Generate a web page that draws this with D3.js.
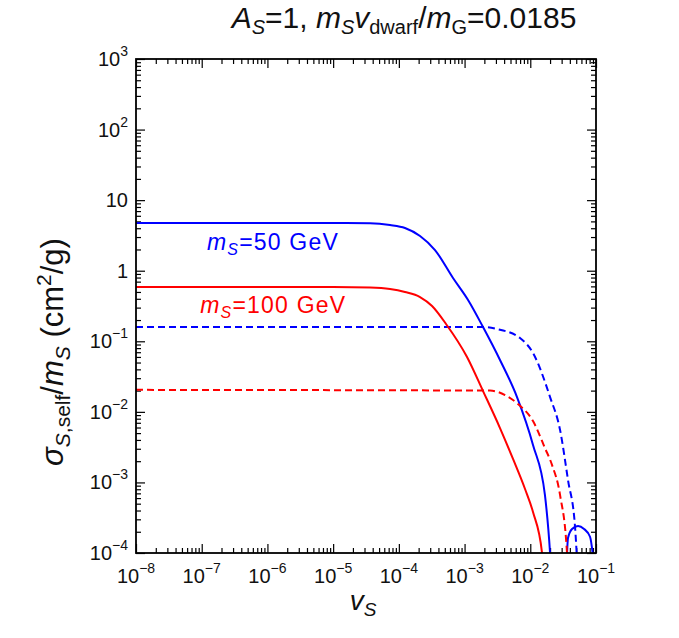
<!DOCTYPE html>
<html>
<head>
<script src="https://cdn.jsdelivr.net/npm/d3@7"></script>
<style>
  body { margin: 0; background: #fff; }
  text { font-family: "Liberation Sans", Arial, Helvetica, sans-serif; }
</style>
</head>
<body>
<div id="chart"></div>
<script>
// decades shown on the axes
var xExponents = [-8, -7, -6, -5, -4, -3, -2, -1]
var yExponents = [-4, -3, -2, -1, 0, 1, 2, 3]

// curves: [v_S, sigma/m_S]
var ms50Solid = [[1e-8, 4.75], [1e-6, 4.75], [1e-5, 4.74], [3.64e-5, 4.7], [7.33e-5, 4.44],
  [1.24e-4, 4.03], [2.10e-4, 3.10], [3.55e-4, 1.96], [6.67e-4, 0.788], [1.13e-3, 0.385],
  [1.91e-3, 0.159], [3.46e-3, 0.0543], [6.28e-3, 0.0162], [0.0110, 3.39e-3], [0.0167, 6.64e-4],
  [0.0200, 1.0e-4], [0.0212, 4e-5]]
var ms50Arc = [[0.0350, 4e-5], [0.0375, 1.63e-4], [0.0432, 2.19e-4], [0.0533, 2.41e-4],
  [0.0658, 2.19e-4], [0.0811, 1.7e-4], [0.098, 4e-5]]
var ms50Dashed = [[1e-8, 0.16], [1.85e-3, 0.16], [3.12e-3, 0.149], [6.98e-3, 0.111], [0.0110, 0.0682],
  [0.0200, 0.0162], [0.0284, 5.53e-3], [0.0375, 1.08e-3], [0.0480, 2.33e-4], [0.0533, 4e-5]]
var ms100Solid = [[1e-8, 0.59], [1e-5, 0.588], [3.64e-5, 0.578], [7.33e-5, 0.551], [1.24e-4, 0.499],
  [2.10e-4, 0.424], [3.20e-4, 0.316], [5.22e-4, 0.176], [1.09e-3, 0.0599], [1.91e-3, 0.0197],
  [3.46e-3, 5.9e-3], [5.46e-3, 2.15e-3], [8.32e-3, 8.07e-4], [0.0110, 3.81e-4], [0.0151, 1.0e-4],
  [0.0160, 4e-5]]
var ms100Dashed = [[1e-8, 0.0205], [2.44e-3, 0.0200], [4.13e-3, 0.0173], [6.50e-3, 0.0129],
  [0.0110, 7.41e-3], [0.0167, 3.08e-3], [0.0214, 1.77e-3], [0.0284, 6.6e-4], [0.0362, 1.0e-4],
  [0.0380, 4e-5]]

var margin = { top: 59, left: 136 },
    width = 460,
    height = 494

var root = d3.select("#chart").append("svg")
    .attr("width", 679)
    .attr("height", 638)
var svg = root.append("g")
    .attr("transform", "translate(" + margin.left + "," + margin.top + ")")

var x = d3.scaleLog().domain([1e-8, 1e-1]).range([0, width])
var y = d3.scaleLog().domain([1e-4, 1e3]).range([height, 0])

var majorX = xExponents.map(function (e) { return Math.pow(10, e) })
var majorY = yExponents.map(function (e) { return Math.pow(10, e) })
function minorOf(exps) {
    var out = []
    exps.slice(0, -1).forEach(function (e) {
        for (var d = 2; d <= 9; d++) out.push(d * Math.pow(10, e))
    })
    return out
}
var minorX = minorOf(xExponents)
var minorY = minorOf(yExponents)

// inward ticks on all four sides
function addTicks(axis, transform, values, size) {
    svg.append("g")
        .attr("transform", transform)
        .call(axis.tickValues(values).tickSize(size).tickFormat(""))
        .call(function (g) { g.select(".domain").remove() })
        .selectAll("line").attr("stroke", "#000").attr("stroke-width", 1.2)
}
addTicks(d3.axisBottom(x), "translate(0," + height + ")", majorX, -9)
addTicks(d3.axisBottom(x), "translate(0," + height + ")", minorX, -5)
addTicks(d3.axisTop(x), "translate(0,0)", majorX, -9)
addTicks(d3.axisTop(x), "translate(0,0)", minorX, -5)
addTicks(d3.axisLeft(y), "translate(0,0)", majorY, -9)
addTicks(d3.axisLeft(y), "translate(0,0)", minorY, -5)
addTicks(d3.axisRight(y), "translate(" + width + ",0)", majorY, -9)
addTicks(d3.axisRight(y), "translate(" + width + ",0)", minorY, -5)

// tick labels with superscripts
function powerLabel(sel, e, showPlain) {
    if (showPlain && e === 0) { sel.text("1"); return }
    if (showPlain && e === 1) { sel.text("10"); return }
    sel.append("tspan").text("10")
    sel.append("tspan").attr("dy", -10).style("font-size", "14px")
        .text(e < 0 ? "\u2212" + Math.abs(e) : String(e))
}
xExponents.forEach(function (e) {
    var t = svg.append("text")
        .attr("x", x(Math.pow(10, e)))
        .attr("y", height + 30)
        .attr("text-anchor", "middle")
        .style("font-size", "20px")
        .attr("fill", "#111")
    powerLabel(t, e, false)
})
yExponents.forEach(function (e) {
    var t = svg.append("text")
        .attr("x", -8)
        .attr("y", y(Math.pow(10, e)) + 7)
        .attr("text-anchor", "end")
        .style("font-size", "20px")
        .attr("fill", "#111")
    powerLabel(t, e, true)
})

// curves
svg.append("clipPath").attr("id", "plotClip")
    .append("rect").attr("width", width).attr("height", height)

var line = d3.line()
    .x(function (d) { return x(d[0]) })
    .y(function (d) { return y(d[1]) })
    .curve(d3.curveMonotoneX)

var curves = [
    { data: ms50Solid, color: "#0000ff", dash: null },
    { data: ms50Arc, color: "#0000ff", dash: null },
    { data: ms50Dashed, color: "#0000ff", dash: "7,4" },
    { data: ms100Solid, color: "#ff0000", dash: null },
    { data: ms100Dashed, color: "#ff0000", dash: "7,4" }
]
svg.append("g").attr("clip-path", "url(#plotClip)")
    .selectAll("path")
    .data(curves)
    .enter().append("path")
    .attr("fill", "none")
    .attr("stroke", function (d) { return d.color })
    .attr("stroke-width", 2)
    .attr("stroke-dasharray", function (d) { return d.dash })
    .attr("d", function (d) { return line(d.data) })

// frame
svg.append("rect")
    .attr("width", width).attr("height", height)
    .attr("fill", "none").attr("stroke", "#000").attr("stroke-width", 1.8)

// subscript helper: shift down, then back up by the same pixels
function sub(t, txt, size, italic, shift) {
    t.append("tspan").attr("dy", shift).style("font-size", size + "px")
        .style("font-style", italic ? "italic" : "normal").text(txt)
}
function back(t, txt, shift, italic) {
    t.append("tspan").attr("dy", -shift)
        .style("font-style", italic ? "italic" : "normal").text(txt)
}

// curve labels
function massLabel(vx, vy, mass, color) {
    var t = svg.append("text")
        .attr("x", x(vx)).attr("y", y(vy))
        .attr("fill", color).style("font-size", "23px")
        .style("letter-spacing", "1.2px")
    t.append("tspan").style("font-style", "italic").text("m")
    sub(t, "S", 16, true, 5)
    back(t, "=" + mass + " GeV", 5, false)
}
massLabel(1.2e-7, 1.96, 50, "#0000ff")
massLabel(0.95e-7, 0.252, 100, "#ff0000")

// title
var title = root.append("text")
    .attr("x", 404).attr("y", 28)
    .attr("text-anchor", "middle")
    .style("font-size", "30px")
    .attr("fill", "#111")
title.append("tspan").style("font-style", "italic").text("A")
sub(title, "S", 20, true, 6)
back(title, "=1, ", 6, false)
title.append("tspan").style("font-style", "italic").text("m")
sub(title, "S", 20, true, 6)
back(title, "v", 6, true)
sub(title, "dwarf", 20, false, 6)
back(title, "/", 6, false)
title.append("tspan").style("font-style", "italic").text("m")
sub(title, "G", 20, false, 6)
back(title, "=0.0185", 6, false)

// x label
var xl = root.append("text")
    .attr("x", 363).attr("y", 610)
    .attr("text-anchor", "middle")
    .style("font-size", "28px")
    .attr("fill", "#111")
xl.append("tspan").style("font-style", "italic").text("v")
sub(xl, "S", 19, true, 6)

// y label
var yl = root.append("text")
    .attr("transform", "translate(63,352) rotate(-90)")
    .attr("text-anchor", "middle")
    .style("font-size", "31px")
    .attr("fill", "#111")
yl.append("tspan").style("font-style", "italic").text("\u03c3")
sub(yl, "S", 21, true, 7)
yl.append("tspan").style("font-size", "21px").text(",self")
back(yl, "/", 7, false)
yl.append("tspan").style("font-style", "italic").text("m")
sub(yl, "S", 21, true, 7)
back(yl, " (cm", 7, false)
yl.append("tspan").attr("dy", -12).style("font-size", "21px").text("2")
yl.append("tspan").attr("dy", 12).text("/g)")
</script>
</body>
</html>
